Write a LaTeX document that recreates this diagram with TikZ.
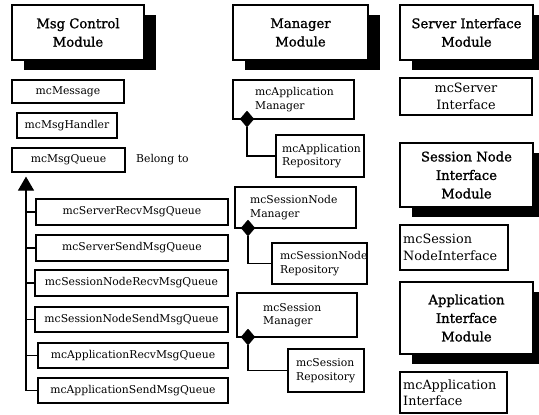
\documentclass[tikz,border=0pt]{standalone}
\usepackage{fontspec}
\setmainfont{DejaVu Serif}
\newfontfamily\titlefont{DejaVu Serif}[FakeBold=1.2]
\usetikzlibrary{shapes.geometric,arrows.meta,shadows,calc}
\begin{document}
\begin{tikzpicture}[x=1pt,y=-1pt,
  box/.style={draw, line width=1.2pt, fill=white, inner sep=0pt, align=center,
    font=\fontsize{10.8}{13.5}\selectfont},
  bigbox/.style={box, font=\fontsize{12.8}{16.5}\selectfont},
  module/.style={draw, line width=1.5pt, fill=white, inner sep=0pt, align=center,
    font=\titlefont\fontsize{13.2}{18.5}\selectfont,
    drop shadow={shadow xshift=12pt, shadow yshift=-10pt, fill=black, opacity=1}},
  txt/.style={inner sep=0pt, align=left, anchor=west, font=\fontsize{10.8}{13.5}\selectfont},
  bigtxt/.style={txt, font=\fontsize{12.8}{16.5}\selectfont},
  dia/.style={diamond, fill=black, draw=black, inner sep=0pt, minimum width=14pt, minimum height=16pt},
  conn/.style={line width=1.2pt}]
\useasboundingbox (0,0) rectangle (539,415);

% modules
\node[module, minimum width=132, minimum height=55] (m1) at (78,32.5) {Msg Control\\Module};
\node[module, minimum width=135, minimum height=55] (m2) at (300.5,32.5) {Manager\\Module};
\node[module, minimum width=133, minimum height=55] (m3) at (466.5,32.5) {Server Interface\\Module};
\node[module, minimum width=133, minimum height=64] (m4) at (466.5,175) {Session Node\\Interface\\Module};
\node[module, minimum width=133, minimum height=72] (m5) at (466.5,318) {Application\\Interface\\Module};

% msg column
\node[box, minimum width=112, minimum height=23] (msg) at (68,91.5) {mcMessage};
\node[box, minimum width=100, minimum height=25] (hdl) at (67,125.5) {mcMsgHandler};
\node[box, minimum width=113, minimum height=24] (que) at (68.5,160) {mcMsgQueue};
\node[txt] (belong) at (136,160) {Belong to};

\node[box, minimum width=192, minimum height=26] (r1) at (132,212) {mcServerRecvMsgQueue};
\node[box, minimum width=192, minimum height=26] (r2) at (132,248) {mcServerSendMsgQueue};
\node[box, minimum width=193, minimum height=26] (r3) at (131.5,283) {mcSessionNodeRecvMsgQueue};
\node[box, minimum width=193, minimum height=25] (r4) at (131.5,319.5) {mcSessionNodeSendMsgQueue};
\node[box, minimum width=190, minimum height=25] (r5) at (133,355.5) {mcApplicationRecvMsgQueue};
\node[box, minimum width=190, minimum height=25] (r6) at (133,390.5) {mcApplicationSendMsgQueue};

\coordinate (tb) at (26,390.5);
\draw[conn, -{Triangle[width=16pt,length=14pt]}, shorten >=4pt] (tb) -- (tb |- que.south);
\foreach \r in {r1,r2,r3,r4,r5,r6}
  \draw[conn] (tb |- \r.west) -- (\r.west);

% manager column
\node[box, minimum width=121, minimum height=39] (am) at (293.5,99.5) {};
\node[txt] (amt) at (255,99.5) {mcApplication\\Manager};
\node[box, minimum width=88, minimum height=42] (ar) at (320,156) {};
\node[txt] (art) at (282,156) {mcApplication\\Repository};
\node[dia] (d1) at (247,119) {};
\draw[conn] (d1.south) |- (ar.west);

\node[box, minimum width=121, minimum height=41] (sm) at (295.5,207.5) {};
\node[txt] (smt) at (250,207.5) {mcSessionNode\\Manager};
\node[box, minimum width=95, minimum height=41] (sr) at (319.5,263.5) {};
\node[txt] (srt) at (280,263.5) {mcSessionNode\\Repository};
\node[dia] (d2) at (248,228) {};
\draw[conn] (d2.south) |- (sr.west);

\node[box, minimum width=120, minimum height=44] (ssm) at (297,315) {};
\node[txt] (ssmt) at (263,315) {mcSession\\Manager};
\node[box, minimum width=76, minimum height=43] (ssr) at (326,370.5) {};
\node[txt] (ssrt) at (296,370.5) {mcSession\\Repository};
\node[dia] (d3) at (248,337) {};
\draw[conn] (d3.south) |- (ssr.west);

% interface column
\node[bigbox, minimum width=132, minimum height=37] (si) at (466,96.5) {mcServer\\Interface};
\node[box, minimum width=108, minimum height=45] (sni) at (454,247.5) {};
\node[bigtxt] (snit) at (403,247.5) {mcSession\\NodeInterface};
\node[box, minimum width=107, minimum height=41] (ai) at (453.5,392.5) {};
\node[bigtxt] (ait) at (403,392.5) {mcApplication\\Interface};
\end{tikzpicture}
\end{document}
